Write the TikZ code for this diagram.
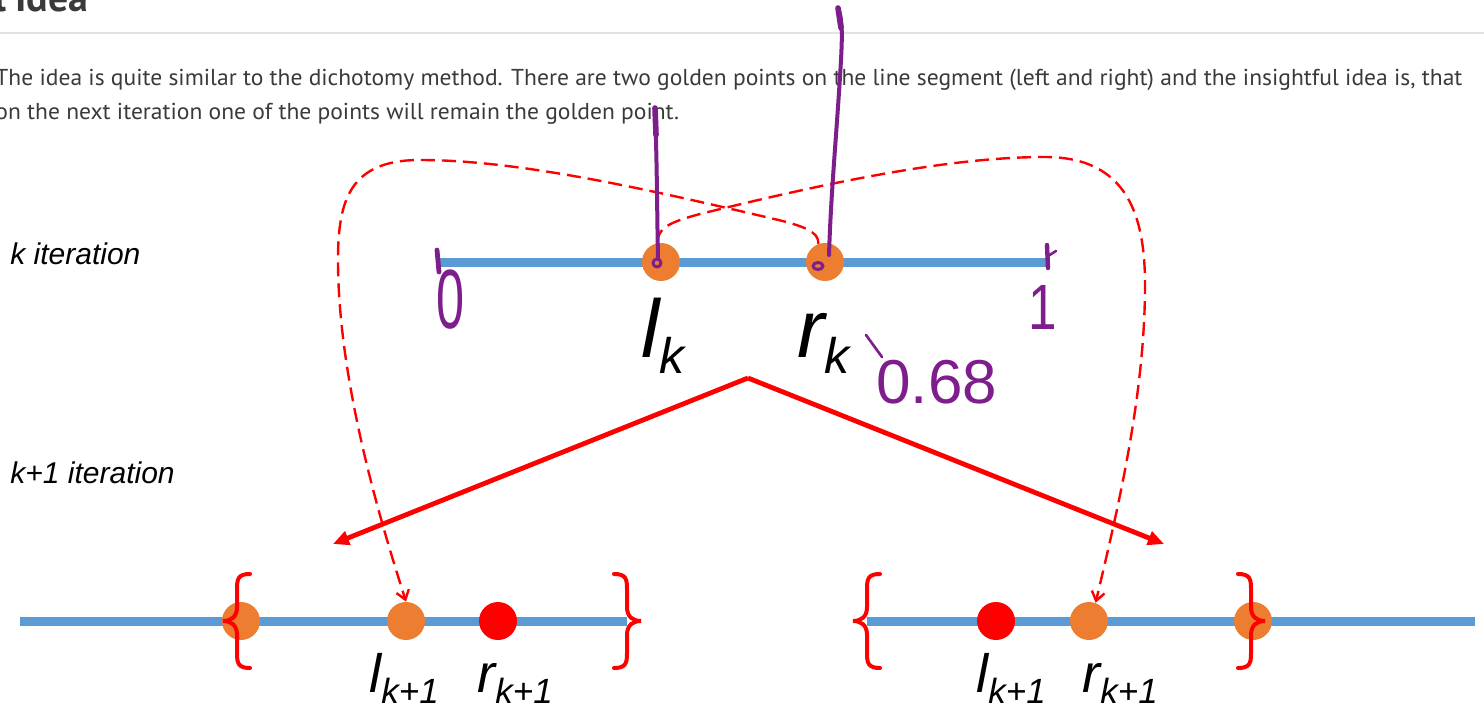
\documentclass[tikz,border=0pt]{standalone}
\usepackage{fontspec}
\setmainfont{Liberation Sans}
\newfontfamily\parafont{PT Sans}
\usetikzlibrary{arrows.meta}
\definecolor{lineblue}{HTML}{5B9BD5}
\definecolor{ptorange}{HTML}{ED7D31}
\definecolor{ptred}{HTML}{FF0000}
\definecolor{ink}{RGB}{125,30,140}
\definecolor{txtgray}{HTML}{3A3A3A}
\definecolor{rulegray}{HTML}{DFE2E6}
\newsavebox\LineOneBox
\newcommand\paraone{The idea is quite similar to the dichotomy method. There are two golden points on the line segment (left and right) and the insightful idea is, that}
\newcommand\paratwo{on the next iteration one of the points will remain the golden point.}
\tikzset{
  seg/.style={line width=4.5pt, lineblue},
  dot/.style={circle, inner sep=0pt, minimum size=19pt},
  odot/.style={dot, fill=ptorange},
  rdot/.style={dot, fill=ptred},
  bracestroke/.style={ptred, line width=2pt, line cap=round},
  dashlink/.style={ptred, line width=1.2pt, dash pattern=on 7pt off 3.5pt, -{Straight Barb[length=4.5pt,width=6.5pt]}},
  bigarrow/.style={ptred, line width=2.4pt, -{Triangle[length=8pt,width=7pt]}},
  pen/.style={ink, line width=2pt, line cap=round, line join=round},
  itlabel/.style={font=\fontsize{15}{18}\selectfont\itshape, anchor=base west, inner sep=0pt},
  mathlabel/.style={anchor=base west, inner sep=0pt, font=\itshape},
  handtext/.style={text=ink, inner sep=0pt},
  lbrace/.pic={\draw[bracestroke] (27,-47) .. controls (15,-47) and (14,-42) .. (14,-32) -- (14,-14) .. controls (14,-4) and (8,0) .. (0,0) .. controls (8,0) and (14,4) .. (14,14) -- (14,32) .. controls (14,42) and (15,47) .. (27,47);}
}
\begin{document}
\sbox\LineOneBox{\parafont\fontsize{11.5}{13}\selectfont\paraone}%
\pgfmathsetmacro\parsx{733.5/(\wd\LineOneBox)}%
\begin{tikzpicture}[x=0.5pt,y=-0.5pt]
\fill[white] (0,0) rectangle (1484,722);
\useasboundingbox (0,0) rectangle (1484,722);

% header
\node[anchor=base east, inner sep=0pt, text=txtgray, font=\parafont\bfseries\fontsize{20}{24}\selectfont] (headcut) at (7,12) {l};
\node[anchor=base west, inner sep=0pt, text=txtgray, font=\parafont\bfseries\fontsize{20}{24}\selectfont] (head) at (15,12) {Idea};
\coordinate (ruleL) at (0,33);
\coordinate (ruleR) at (1484,33);
\draw[rulegray, line width=1pt] (ruleL) -- (ruleR);

% paragraph
\node[anchor=base west, inner sep=0pt, text=txtgray] (par1) at (-5,86) {\scalebox{\parsx}[1]{\parafont\fontsize{11.5}{13}\selectfont\paraone}};
\node[anchor=base west, inner sep=0pt, text=txtgray] (par2) at (-5,120) {\scalebox{\parsx}[1]{\parafont\fontsize{11.5}{13}\selectfont\paratwo}};

% iteration labels
\node[itlabel] (kit) at (10,264) {k iteration};
\node[itlabel] (k1it) at (10,483) {k+1 iteration};

% top segment
\coordinate (A0) at (440,262);
\coordinate (A1) at (1046,262);
\draw[seg] (A0) -- (A1);
\node[odot] (lk) at (661,262) {};
\node[odot] (rk) at (825,262) {};
\node[mathlabel] (lklab) at (641,357) {\fontsize{41}{41}\selectfont l\raisebox{-8pt}{\fontsize{25}{25}\selectfont k}};
\node[mathlabel] (rklab) at (797,357) {\fontsize{41}{41}\selectfont r\raisebox{-8pt}{\fontsize{25}{25}\selectfont k}};

% bottom left
\coordinate (B0) at (20,621);
\coordinate (B1) at (627,621);
\draw[seg] (B0) -- (B1);
\node[odot] (olft) at (241,621) {};
\node[odot] (lka) at (406,621) {};
\node[rdot] (rka) at (498,621) {};
\pic at (223,621) {lbrace};
\pic[xscale=-1] at (641,621) {lbrace};
\node[mathlabel] (lkalab) at (369,692) {\fontsize{27}{27}\selectfont l\raisebox{-5.5pt}{\fontsize{17.5}{17.5}\selectfont k+1}};
\node[mathlabel] (rkalab) at (477,692) {\fontsize{27}{27}\selectfont r\raisebox{-5.5pt}{\fontsize{17.5}{17.5}\selectfont k+1}};

% bottom right
\coordinate (C0) at (867,621);
\coordinate (C1) at (1475,621);
\draw[seg] (C0) -- (C1);
\node[rdot] (lkb) at (996,621) {};
\node[odot] (rkb) at (1089,621) {};
\node[odot] (orgt) at (1253,621) {};
\pic at (853,621) {lbrace};
\pic[xscale=-1] at (1265,621) {lbrace};
\node[mathlabel] (lkblab) at (976,692) {\fontsize{27}{27}\selectfont l\raisebox{-5.5pt}{\fontsize{17.5}{17.5}\selectfont k+1}};
\node[mathlabel] (rkblab) at (1082,692) {\fontsize{27}{27}\selectfont r\raisebox{-5.5pt}{\fontsize{17.5}{17.5}\selectfont k+1}};

% big arrows
\coordinate (apex) at (748,378);
\coordinate (tipL) at (333,544);
\coordinate (tipR) at (1164,544);
\draw[bigarrow] (apex) -- (tipL);
\draw[bigarrow] (apex) -- (tipR);

% dashed links
\draw[dashlink] (rk.110) .. controls (819,232) and (805,226) .. (770,218) .. controls (650,190) and (520,160) .. (420,160) .. controls (350,160) and (338,200) .. (338,260) .. controls (338,380) and (380,520) .. (lka.north);
\draw[dashlink] (lk.100) .. controls (657,228) and (670,222) .. (700,214) .. controls (830,182) and (950,157) .. (1045,157) .. controls (1130,157) and (1145,220) .. (1145,285) .. controls (1145,400) and (1115,520) .. (rkb.70);

% purple ink
\draw[pen] (655,110) .. controls (657,160) and (657,210) .. (658,258);
\draw[pen, line width=2.8pt] (655,108) -- (656,135);
\draw[pen, line width=1.5pt] (657,263) ellipse [x radius=4, y radius=4];
\draw[pen] (838,8) .. controls (843,20) and (842,40) .. (841,60) .. controls (837,130) and (831,190) .. (829,255);
\draw[pen, line width=2.8pt] (838,8) -- (841,28);
\draw[pen, line width=1.5pt] (818,266) ellipse [x radius=5, y radius=3.5];
\draw[pen, line width=2.4pt] (437,250) -- (439,272);
\draw[pen, line width=2.2pt] (1047,245) -- (1048,268);
\draw[pen, line width=1.3pt] (1048,256) -- (1056,251);
\draw[pen, line width=1.3pt] (866,335) -- (882,357);
\node[handtext] (zero) at (451,300) {\scalebox{0.6}[1]{\fontsize{42}{42}\selectfont 0}};
\node[handtext] (one) at (1043,307) {\scalebox{0.8}[1]{\fontsize{32}{32}\selectfont 1}};
\node[handtext, anchor=base west] (val) at (876,403) {\fontsize{31}{31}\selectfont 0.68};
\end{tikzpicture}
\end{document}
